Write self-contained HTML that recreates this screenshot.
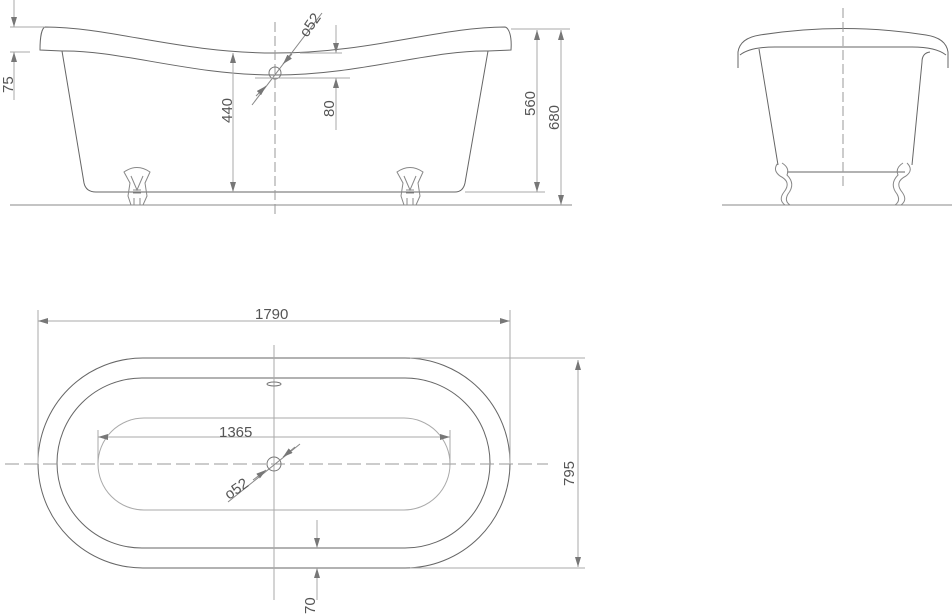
<!DOCTYPE html>
<html><head><meta charset="utf-8"><style>
html,body{margin:0;padding:0;background:#fff;}
svg{display:block}
text{font-family:"Liberation Sans",sans-serif;fill:#555;font-size:15px}
</style></head><body>
<svg width="952" height="616" viewBox="0 0 952 616" xmlns="http://www.w3.org/2000/svg">
<defs>
<marker id="a" viewBox="0 0 10 6" refX="10" refY="3" markerWidth="10" markerHeight="6" orient="auto-start-reverse" markerUnits="userSpaceOnUse"><path d="M0,0 L10,3 L0,6 z" fill="#777"/></marker>
</defs>
<g fill="none" stroke="#777" stroke-width="1">
<!-- FRONT VIEW -->
<path d="M45,27 C42,28 40,36 40,50 L62,51 C120,50 190,75 275,75 C360,75 430,50 488,51 L511,50 C512,36 509,28 505,27 C440,27 370,53 275,53 C180,53 110,27 45,27 Z" stroke="#666"/>
<path d="M62,51 L84,183 Q86,192 96,192 L455,192 Q463,192 465,183 L488,51" stroke="#666"/>
<line x1="10" y1="205" x2="572" y2="205" stroke="#888"/>
<line x1="275" y1="22" x2="275" y2="215" stroke="#999" stroke-dasharray="10,4"/>
<!-- feet -->
<g stroke="#888">
<path d="M124,172 Q137,163 150,172 L145,183 L147,196 L143,205 L131,205 L128,196 L130,183 Z"/>
<path d="M131,176 L137,190 L143,176 M133,190 L141,190 M133,193 L141,193 M134,198 L134,205 M140,198 L140,205"/>
<path d="M397,172 Q410,163 423,172 L418,183 L420,196 L416,205 L404,205 L401,196 L403,183 Z"/>
<path d="M404,176 L410,190 L416,176 M406,190 L414,190 M406,193 L414,193 M407,198 L407,205 M413,198 L413,205"/>
</g>
<!-- drain -->
<circle cx="275" cy="73" r="6"/>
<line x1="252" y1="105" x2="322" y2="13" stroke="#888"/>
<line x1="256" y1="96" x2="266" y2="86" marker-end="url(#a)" stroke="#888"/>
<line x1="292" y1="54" x2="283" y2="64" marker-end="url(#a)" stroke="#888"/>
<!-- dims -->
<g stroke="#aaa">
<line x1="10" y1="27" x2="45" y2="27"/><line x1="10" y1="52" x2="30" y2="52"/>
<line x1="14" y1="0" x2="14" y2="27" marker-end="url(#a)"/>
<line x1="14" y1="100" x2="14" y2="52" marker-end="url(#a)"/>
<line x1="233" y1="53" x2="233" y2="192" marker-start="url(#a)" marker-end="url(#a)"/>
<line x1="300" y1="53" x2="342" y2="53"/><line x1="255" y1="78" x2="350" y2="78"/>
<line x1="336" y1="25" x2="336" y2="53" marker-end="url(#a)"/>
<line x1="336" y1="130" x2="336" y2="78" marker-end="url(#a)"/>
<line x1="465" y1="192" x2="545" y2="192"/>
<line x1="511" y1="29" x2="570" y2="29"/>
<line x1="537" y1="30" x2="537" y2="192" marker-start="url(#a)" marker-end="url(#a)"/>
<line x1="561" y1="30" x2="561" y2="205" marker-start="url(#a)" marker-end="url(#a)"/>
</g>
<!-- SIDE VIEW -->
<path d="M738,68 L738,52 Q740,38 760,35 Q843,22 926,35 Q946,38 948,52 L948,68" stroke="#666"/>
<path d="M740,55 Q750,47 775,47 L912,47 Q936,47 946,55" stroke="#666"/>
<path d="M759,49 L778,165 M930,52 Q922,53 922,62 L912,165" stroke="#666"/>
<path d="M787,172 L905,172" stroke="#666"/>
<path d="M778,163 Q772,170 780,176 Q792,182 784,192 Q778,200 785,205 M782,163 Q790,168 787,175 Q796,184 788,194 Q784,201 790,205" stroke="#888"/>
<path d="M907,163 Q914,170 906,176 Q894,182 902,192 Q908,200 901,205 M903,163 Q895,168 898,175 Q889,184 897,194 Q901,201 895,205" stroke="#888"/>
<line x1="722" y1="205" x2="952" y2="205" stroke="#888"/>
<line x1="843" y1="8" x2="843" y2="190" stroke="#999" stroke-dasharray="10,4"/>
<!-- TOP VIEW -->
<rect x="38" y="358" width="472" height="210" rx="105" stroke="#666"/>
<rect x="57" y="378" width="433" height="170" rx="85" stroke="#666"/>
<rect x="98" y="418" width="352" height="92" rx="46" stroke="#aaa"/>
<line x1="5" y1="464" x2="548" y2="464" stroke="#999" stroke-dasharray="14,5"/>
<line x1="274" y1="345" x2="274" y2="600" stroke="#aaa"/>
<ellipse cx="274" cy="384" rx="7" ry="2"/>
<circle cx="274" cy="464" r="7"/>
<line x1="228" y1="502" x2="300" y2="444" stroke="#888"/>
<line x1="253" y1="480" x2="266" y2="470" marker-end="url(#a)" stroke="#888"/>
<line x1="295" y1="447" x2="283" y2="457" marker-end="url(#a)" stroke="#888"/>
<g stroke="#aaa">
<line x1="38" y1="310" x2="38" y2="464"/><line x1="510" y1="310" x2="510" y2="464"/>
<line x1="38" y1="321" x2="510" y2="321" marker-start="url(#a)" marker-end="url(#a)"/>
<line x1="98" y1="430" x2="98" y2="464"/><line x1="450" y1="430" x2="450" y2="464"/>
<line x1="98" y1="437" x2="450" y2="437" marker-start="url(#a)" marker-end="url(#a)"/>
<line x1="410" y1="358" x2="585" y2="358"/><line x1="410" y1="568" x2="585" y2="568"/>
<line x1="578" y1="360" x2="578" y2="567" marker-start="url(#a)" marker-end="url(#a)"/>
<line x1="317" y1="520" x2="317" y2="548" marker-end="url(#a)"/>
<line x1="317" y1="600" x2="317" y2="568" marker-end="url(#a)"/>
</g>
</g>
<text transform="translate(13,93) rotate(-90)">75</text>
<text transform="translate(232,123) rotate(-90)">440</text>
<text transform="translate(334,117) rotate(-90)">80</text>
<text transform="translate(535,116) rotate(-90)">560</text>
<text transform="translate(559,130) rotate(-90)">680</text>
<text transform="translate(307,38) rotate(-55)">o52</text>
<text x="255" y="319">1790</text>
<text x="219" y="437">1365</text>
<text transform="translate(229,500) rotate(-35)">o52</text>
<text transform="translate(574,486) rotate(-90)">795</text>
<text transform="translate(315,614) rotate(-90)">70</text>
</svg>
</body></html>
